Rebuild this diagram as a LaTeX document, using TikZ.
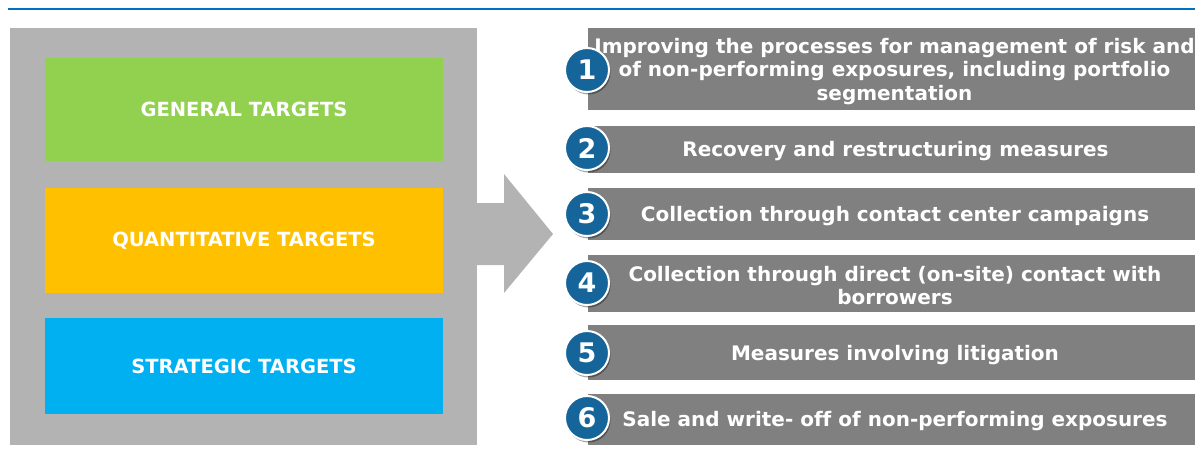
\documentclass[tikz,border=0pt]{standalone}
\usepackage{fontspec}
\setmainfont[Ligatures=NoCommon]{DejaVu Sans}
\usetikzlibrary{shadows}
\definecolor{topblue}{HTML}{0070C0}
\definecolor{panelgray}{HTML}{B3B3B3}
\definecolor{bargray}{HTML}{808080}
\definecolor{tgreen}{HTML}{92D050}
\definecolor{torange}{HTML}{FFC000}
\definecolor{tblue}{HTML}{00B0F0}
\definecolor{numblue}{HTML}{15659A}
\tikzset{
  target/.style={fill=#1, draw=none, text=white, font=\bfseries\fontsize{19.5}{22}\selectfont},
  bar/.style={fill=bargray, draw=none},
  bartext/.style={text=white, align=center, font=\bfseries\fontsize{20}{23.5}\selectfont, inner sep=0pt},
  numcirc/.style={circle, fill=numblue, draw=white, line width=2pt, minimum size=44pt, inner sep=0pt,
    text=white, font=\bfseries\fontsize{27}{27}\selectfont,
    drop shadow={shadow xshift=1.5pt, shadow yshift=-2.5pt, opacity=0.35, fill=black}}
}
\begin{document}
\begin{tikzpicture}[x=1pt,y=-1pt]
\useasboundingbox (0,0) rectangle (1195,459);
\fill[white] (0,0) rectangle (1195,459);
% top rule
\draw[topblue, line width=2.5pt] (8,9) coordinate (rl) -- (1195,9) coordinate (rr);
% left panel
\fill[panelgray] (10,28) rectangle (477,445);
\node[target=tgreen, minimum width=398pt, minimum height=103pt] (gen) at (244,109.5) {GENERAL TARGETS};
\node[target=torange, minimum width=398pt, minimum height=105pt] (quant) at (244,240.5) {QUANTITATIVE TARGETS};
\node[target=tblue, minimum width=398pt, minimum height=96pt] (strat) at (244,366) {STRATEGIC TARGETS};
% arrow
\fill[panelgray] (476,203) -- (504,203) -- (504,174) -- (553,234) -- (504,293) -- (504,265) -- (476,265) -- cycle;
% bars
\fill[bar] (588,28) rectangle (1195,110);
\fill[bar] (588,126) rectangle (1195,173);
\fill[bar] (588,188) rectangle (1195,240);
\fill[bar] (588,255) rectangle (1195,312);
\fill[bar] (588,325) rectangle (1195,380);
\fill[bar] (588,394) rectangle (1195,445);
% bar texts
\node[bartext] (t1) at (894.5,71.5) {Improving the processes for management of risk and\\of non-performing exposures, including portfolio\\segmentation};
\node[bartext] (t2) at (895.5,151.5) {Recovery and restructuring measures};
\node[bartext] (t3) at (895,216.5) {Collection through contact center campaigns};
\node[bartext] (t4) at (895,285.5) {Collection through direct (on-site) contact with\\borrowers};
\node[bartext] (t5) at (895,355.5) {Measures involving litigation};
\node[bartext] (t6) at (895,421.5) {Sale and write- off of non-performing exposures};
% numbers
\node[numcirc] (n1) at (587,70) {1};
\node[numcirc] (n2) at (587,148) {2};
\node[numcirc] (n3) at (587,214) {3};
\node[numcirc] (n4) at (587,283) {4};
\node[numcirc] (n5) at (587,353) {5};
\node[numcirc] (n6) at (587,418) {6};
\end{tikzpicture}
\end{document}
